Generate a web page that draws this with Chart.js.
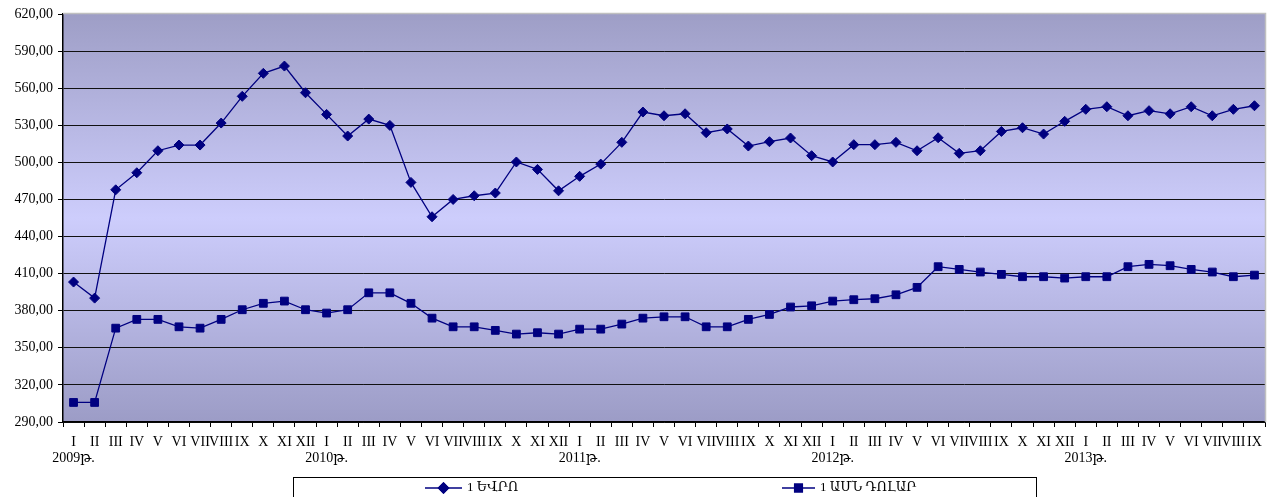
<!DOCTYPE html>
<html>
<head>
<meta charset="utf-8">
<script src="https://cdn.jsdelivr.net/npm/chart.js@4.4.1/dist/chart.umd.min.js"></script>
<style>
  html, body { margin: 0; padding: 0; background: #fff; overflow: hidden; }
  #wrap { width: 1274px; height: 497px; }
</style>
</head>
<body>
<div id="wrap"><canvas id="myChart" width="1274" height="497"></canvas></div>
<script>
// month names and years used for the category axis
const monthNames = ['I', 'II', 'III', 'IV', 'V', 'VI', 'VII', 'VIII', 'IX', 'X', 'XI', 'XII'];
const years = ['2009թ.', '2010թ.', '2011թ.', '2012թ.', '2013թ.'];
const monthsInLastYear = 9;

const seriesNames = ['1 ԵՎՐՈ', '1 ԱՄՆ ԴՈԼԱՐ'];

// monthly average rates, Jan 2009 - Sep 2013
const euroRates = [
    403.2, 390.2, 477.8, 491.6, 509.4, 514.0, 514.0, 531.8, 553.4, 572.0, 577.9, 556.3,
    538.8, 521.3, 535.0, 529.9, 483.8, 456.0, 470.0, 473.0, 475.2, 500.3, 494.3, 477.0,
    488.7, 498.6, 516.2, 540.7, 537.7, 539.3, 524.0, 527.0, 513.2, 516.7, 519.7, 505.4,
    500.3, 514.3, 514.3, 516.2, 509.4, 519.9, 507.3, 509.4, 525.0, 528.0, 522.9, 533.2,
    542.9, 545.0, 537.7, 541.8, 539.3, 545.0, 537.7, 542.9, 545.8
];
const usdRates = [
    305.8, 305.8, 365.9, 373.0, 373.0, 367.0, 365.9, 373.0, 380.8, 386.0, 387.8, 380.8,
    378.1, 380.8, 394.5, 394.5, 386.0, 374.0, 367.0, 367.0, 364.1, 361.1, 362.2, 361.1,
    365.1, 365.1, 369.2, 374.0, 375.1, 375.1, 367.0, 367.0, 373.0, 377.0, 383.0, 384.0,
    387.8, 388.9, 389.7, 392.9, 398.9, 415.6, 413.4, 411.3, 409.4, 407.5, 407.5, 406.4,
    407.5, 407.5, 415.6, 417.5, 416.4, 413.4, 411.3, 407.5, 408.8
];

const yMin = 290, yMax = 620, yStep = 30;

// build tick labels: first month of each year gets the year on a second line
const labels = [];
years.forEach((yr, yi) => {
    const n = yi === years.length - 1 ? monthsInLastYear : 12;
    for (let m = 0; m < n; m++) {
        labels.push(m === 0 ? [monthNames[m], yr] : monthNames[m]);
    }
});

const FONT = "'Liberation Serif', 'DejaVu Serif', serif";
const NAVY = '#000080';

// gradient background of the plot area + light border on top/right
const plotBackground = {
    id: 'plotBackground',
    beforeDraw(chart) {
        const { ctx, chartArea: a } = chart;
        const g = ctx.createLinearGradient(0, a.top, 0, a.bottom);
        g.addColorStop(0, '#9e9ec6');
        g.addColorStop(0.5, '#cdcdfc');
        g.addColorStop(1, '#9c9cc6');
        ctx.save();
        ctx.fillStyle = g;
        ctx.fillRect(a.left, a.top, a.right - a.left, a.bottom - a.top);
        ctx.restore();
    },
    afterDatasetsDraw(chart) {
        const { ctx, chartArea: a } = chart;
        ctx.save();
        ctx.strokeStyle = '#c0c0c0';
        ctx.lineWidth = 1.5;
        ctx.beginPath();
        ctx.moveTo(a.left, a.top - 0.5);
        ctx.lineTo(a.right + 0.5, a.top - 0.5);
        ctx.lineTo(a.right + 0.5, a.bottom);
        ctx.stroke();
        ctx.restore();
    }
};

// excel-like boxed legend with line + marker samples
const boxLegend = {
    id: 'boxLegend',
    afterDraw(chart) {
        const ctx = chart.ctx;
        ctx.save();
        ctx.strokeStyle = '#000';
        ctx.lineWidth = 1;
        ctx.strokeRect(293.5, 477.5, 743, 40);

        const items = [
            { lineFrom: 425, lineTo: 462, textX: 467 },
            { lineFrom: 782, lineTo: 815, textX: 820 }
        ];
        const y = 488;
        chart.data.datasets.forEach((ds, i) => {
            const it = items[i];
            ctx.strokeStyle = ds.borderColor;
            ctx.lineWidth = ds.borderWidth;
            ctx.beginPath();
            ctx.moveTo(it.lineFrom, y);
            ctx.lineTo(it.lineTo, y);
            ctx.stroke();
            Chart.helpers.drawPoint(ctx, {
                pointStyle: ds.pointStyle,
                radius: ds.pointRadius,
                borderWidth: 1
            }, (it.lineFrom + it.lineTo) / 2, y);
            ctx.fillStyle = ds.pointBackgroundColor;
            ctx.strokeStyle = ds.pointBorderColor;
            ctx.fill();
            ctx.stroke();
            ctx.fillStyle = '#000';
            ctx.font = '13px ' + FONT;
            ctx.textBaseline = 'middle';
            ctx.textAlign = 'left';
            ctx.fillText(ds.label, it.textX, y);
        });
        ctx.restore();
    }
};

const chart = new Chart(document.getElementById('myChart').getContext('2d'), {
    type: 'line',
    data: {
        labels: labels,
        datasets: [{
            label: seriesNames[0],
            data: euroRates,
            borderColor: NAVY,
            borderWidth: 1.3,
            pointStyle: 'rectRot',
            pointRadius: 5,
            pointBackgroundColor: NAVY,
            pointBorderColor: NAVY,
            pointBorderWidth: 1,
            tension: 0
        }, {
            label: seriesNames[1],
            data: usdRates,
            borderColor: NAVY,
            borderWidth: 1.3,
            pointStyle: 'rect',
            pointRadius: 5.5,
            pointBackgroundColor: NAVY,
            pointBorderColor: NAVY,
            pointBorderWidth: 1,
            tension: 0
        }]
    },
    options: {
        responsive: false,
        animation: false,
        layout: { padding: { top: 14, right: 9, bottom: 25, left: 0 } },
        plugins: {
            legend: { display: false },
            tooltip: { enabled: false }
        },
        scales: {
            x: {
                offset: true,
                grid: {
                    offset: true,
                    drawOnChartArea: false,
                    drawTicks: true,
                    tickLength: 5,
                    tickColor: '#000'
                },
                border: { color: '#000', width: 1.5 },
                ticks: {
                    autoSkip: false,
                    maxRotation: 0,
                    minRotation: 0,
                    padding: 7,
                    color: '#000',
                    font: { family: FONT, size: 14, lineHeight: 1.17 }
                },
                afterFit(scale) { scale.height = 50; }
            },
            y: {
                min: yMin,
                max: yMax,
                grid: {
                    color: (c) => c.tick && c.tick.value === yMax ? 'rgba(0,0,0,0)' : '#111',
                    lineWidth: 1,
                    tickLength: 5,
                    tickColor: '#000'
                },
                border: { color: '#000', width: 1.5 },
                ticks: {
                    stepSize: yStep,
                    padding: 5,
                    color: '#000',
                    font: { family: FONT, size: 14 },
                    callback: (v) => v.toFixed(2).replace('.', ',')
                },
                afterFit(scale) { scale.width = 63; }
            }
        }
    },
    plugins: [plotBackground, boxLegend]
});
</script>
</body>
</html>
